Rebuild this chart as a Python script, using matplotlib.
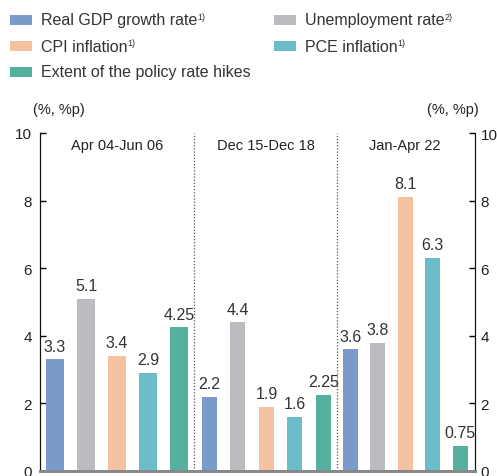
import matplotlib
matplotlib.use("Agg")
import matplotlib.pyplot as plt
from matplotlib.patches import Rectangle

plt.rcParams['font.family'] = ['Liberation Sans', 'DejaVu Sans']

series = ["Real GDP growth rate", "Unemployment rate", "CPI inflation",
          "PCE inflation", "Extent of the policy rate hikes"]
notes = ["1)", "2)", "1)", "1)", ""]
periods = ["Apr 04-Jun 06", "Dec 15-Dec 18", "Jan-Apr 22"]
values = [
    [3.3, 5.1, 3.4, 2.9, 4.25],
    [2.2, 4.4, 1.9, 1.6, 2.25],
    [3.6, 3.8, 8.1, 6.3, 0.75],
]
labels = [
    ["3.3", "5.1", "3.4", "2.9", "4.25"],
    ["2.2", "4.4", "1.9", "1.6", "2.25"],
    ["3.6", "3.8", "8.1", "6.3", "0.75"],
]
yticks = [0, 2, 4, 6, 8, 10]
colors = ["#7a9bc9", "#bbbcc0", "#f4c2a0", "#6bbdca", "#55b19e"]

# group layout in axis units
group_start = [55, 209.5, 350.5]
group_step = [31, 28.5, 27.4]
bar_width = [18, 15, 15]
separators = [194, 337]
title_x = [117, 266, 405]

W, H = 497, 477
fig = plt.figure(figsize=(W / 100, H / 100), dpi=100)
ax = fig.add_axes([40 / W, 5 / H, 435 / W, 338 / H])
ax.set_xlim(40, 475)
ax.set_ylim(0, 10)

for g, vals in enumerate(values):
    for i, v in enumerate(vals):
        x = group_start[g] + i * group_step[g]
        ax.bar(x, v, width=bar_width[g], color=colors[i], zorder=2)
        ax.text(x, v + 0.17, labels[g][i], ha="center", va="bottom",
                fontsize=11.5, color="#333333")
    ax.text(title_x[g], 9.65, periods[g], ha="center", va="center",
            fontsize=10.5, color="#222222")

for s in separators:
    ax.axvline(s, color="#555555", lw=0.9, ls=(0, (1, 1.5)), zorder=1)

ax.set_yticks(yticks)
ax.tick_params(axis="y", direction="in", length=4, width=1, labelsize=11,
               labelcolor="#222222", pad=6)
ax.set_xticks([])

# right-hand scale with its own label padding
ax2 = ax.twinx()
ax2.set_ylim(ax.get_ylim())
ax2.set_yticks(yticks)
ax2.tick_params(axis="y", direction="in", length=4, width=1, labelsize=11,
                labelcolor="#222222", pad=4)

for a in (ax, ax2):
    a.spines["top"].set_visible(False)
    a.spines["left"].set_color("#111111")
    a.spines["right"].set_color("#111111")
    a.spines["bottom"].set_color("#888888")
    a.spines["bottom"].set_linewidth(2)
    a.spines["bottom"].set_zorder(3)

fig.text(59 / W, 1 - 110 / H, "(%, %p)", ha="center", va="center",
         fontsize=10.5, color="#222222")
fig.text(453 / W, 1 - 110 / H, "(%, %p)", ha="center", va="center",
         fontsize=10.5, color="#222222")

# legend drawn in figure pixels
legend_pos = [(10, 21), (274, 21), (10, 47), (274, 47), (10, 73)]
fig.canvas.draw()
renderer = fig.canvas.get_renderer()
for (px, py), name, note, c in zip(legend_pos, series, notes, colors):
    fig.add_artist(Rectangle((px / W, 1 - (py + 5) / H), 22 / W, 10 / H,
                             transform=fig.transFigure, color=c, lw=0))
    t = fig.text((px + 31) / W, 1 - py / H, name, ha="left", va="center",
                 fontsize=11.5, color="#333333")
    if note:
        bb = t.get_window_extent(renderer)
        fig.text(bb.x1 / W, 1 - (py - 4) / H, note, ha="left",
                 va="center", fontsize=6.5, color="#333333")

fig.savefig("out.png", dpi=100)
